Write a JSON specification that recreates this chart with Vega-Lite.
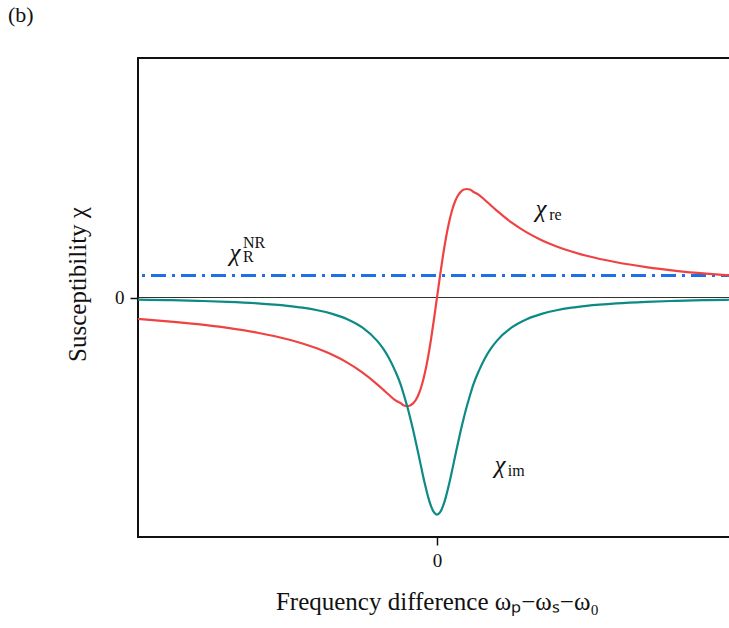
{
  "$schema": "https://vega.github.io/schema/vega-lite/v6.json",
  "autosize": {"type": "none"},
  "padding": {"left": 138, "top": 58, "right": 0, "bottom": 91},
  "width": 598,
  "height": 479,
  "background": "white",
  "config": {
    "view": {"stroke": "#111", "strokeWidth": 2},
    "font": "Liberation Serif",
    "axis": {
      "grid": false,
      "domain": false,
      "tickColor": "#111",
      "tickWidth": 1.5,
      "tickSize": 8,
      "labelFont": "Liberation Serif",
      "labelFontSize": 19,
      "labelColor": "#111",
      "titleFont": "Liberation Serif",
      "titleFontSize": 25,
      "titleFontWeight": "normal",
      "titleColor": "#111"
    }
  },
  "title": {
    "text": "(b)",
    "anchor": "start",
    "frame": "group",
    "dx": -130,
    "offset": 31,
    "font": "Liberation Serif",
    "fontSize": 22,
    "fontWeight": "normal",
    "color": "#111"
  },
  "data": {
    "values": [
      {"x": -10, "re": -0.718, "im": -0.072},
      {"x": -9, "re": -0.796, "im": -0.088},
      {"x": -8, "re": -0.892, "im": -0.112},
      {"x": -7, "re": -1.015, "im": -0.145},
      {"x": -6, "re": -1.176, "im": -0.196},
      {"x": -5, "re": -1.394, "im": -0.279},
      {"x": -4.5, "re": -1.535, "im": -0.341},
      {"x": -4, "re": -1.706, "im": -0.426},
      {"x": -3.5, "re": -1.915, "im": -0.547},
      {"x": -3, "re": -2.175, "im": -0.725},
      {"x": -2.5, "re": -2.5, "im": -1.0},
      {"x": -2, "re": -2.9, "im": -1.45},
      {"x": -1.8, "re": -3.077, "im": -1.71},
      {"x": -1.6, "re": -3.258, "im": -2.036},
      {"x": -1.4, "re": -3.429, "im": -2.449},
      {"x": -1.2, "re": -3.541, "im": -2.951},
      {"x": -1.1, "re": -3.609, "im": -3.281},
      {"x": -1, "re": -3.625, "im": -3.625},
      {"x": -0.9, "re": -3.605, "im": -4.006},
      {"x": -0.8, "re": -3.537, "im": -4.421},
      {"x": -0.7, "re": -3.406, "im": -4.866},
      {"x": -0.6, "re": -3.199, "im": -5.331},
      {"x": -0.5, "re": -2.9, "im": -5.8},
      {"x": -0.4, "re": -2.5, "im": -6.25},
      {"x": -0.3, "re": -1.995, "im": -6.651},
      {"x": -0.2, "re": -1.394, "im": -6.971},
      {"x": -0.1, "re": -0.718, "im": -7.178},
      {"x": 0, "re": 0, "im": -7.25},
      {"x": 0.1, "re": 0.718, "im": -7.178},
      {"x": 0.2, "re": 1.394, "im": -6.971},
      {"x": 0.3, "re": 1.995, "im": -6.651},
      {"x": 0.4, "re": 2.5, "im": -6.25},
      {"x": 0.5, "re": 2.9, "im": -5.8},
      {"x": 0.6, "re": 3.199, "im": -5.331},
      {"x": 0.7, "re": 3.406, "im": -4.866},
      {"x": 0.8, "re": 3.537, "im": -4.421},
      {"x": 0.9, "re": 3.605, "im": -4.006},
      {"x": 1, "re": 3.625, "im": -3.625},
      {"x": 1.1, "re": 3.609, "im": -3.281},
      {"x": 1.2, "re": 3.541, "im": -2.951},
      {"x": 1.4, "re": 3.429, "im": -2.449},
      {"x": 1.6, "re": 3.258, "im": -2.036},
      {"x": 1.8, "re": 3.077, "im": -1.71},
      {"x": 2, "re": 2.9, "im": -1.45},
      {"x": 2.5, "re": 2.5, "im": -1.0},
      {"x": 3, "re": 2.175, "im": -0.725},
      {"x": 3.5, "re": 1.915, "im": -0.547},
      {"x": 4, "re": 1.706, "im": -0.426},
      {"x": 4.5, "re": 1.535, "im": -0.341},
      {"x": 5, "re": 1.394, "im": -0.279},
      {"x": 6, "re": 1.176, "im": -0.196},
      {"x": 7, "re": 1.015, "im": -0.145},
      {"x": 8, "re": 0.892, "im": -0.112},
      {"x": 9, "re": 0.796, "im": -0.088},
      {"x": 10, "re": 0.718, "im": -0.072}
    ]
  },
  "encoding": {
    "x": {"type": "quantitative", "title": "Frequency difference ωₚ−ωₛ−ω₀",
      "scale": {"domain": [-10, 10], "nice": false, "zero": false},
      "axis": {"values": [0], "labelPadding": 6, "titlePadding": 19}},
    "y": {"type": "quantitative", "title": "Susceptibility χ",
      "scale": {"domain": [-8, 8], "nice": false, "zero": false},
      "axis": {"values": [0], "labelPadding": 6, "titlePadding": 24, "titleY": 226}}
  },
  "layer": [
    {
      "mark": {"type": "rule", "color": "#333", "strokeWidth": 1.2},
      "encoding": {"y": {"datum": 0, "type": "quantitative"}}
    },
    {
      "mark": {"type": "rule", "color": "#1f6fe6", "strokeWidth": 2, "strokeDash": [15, 6, 3, 6]},
      "encoding": {"y": {"datum": 0.73, "type": "quantitative"}}
    },
    {
      "mark": {"type": "line", "color": "#ef4343", "strokeWidth": 2.2, "interpolate": "monotone", "clip": true},
      "encoding": {
        "x": {"field": "x"},
        "y": {"field": "re"}
      }
    },
    {
      "mark": {"type": "line", "color": "#0b8a86", "strokeWidth": 2.2, "interpolate": "monotone", "clip": true},
      "encoding": {
        "x": {"field": "x"},
        "y": {"field": "im"}
      }
    },
    {
      "data": {"values": [
        {"x": 3.48, "y": 2.94, "t": "χ"},
        {"x": 2.11, "y": -5.58, "t": "χ"},
        {"x": -6.76, "y": 1.5, "t": "χ"}
      ]},
      "mark": {"type": "text", "fontSize": 25, "fontStyle": "italic", "align": "center", "baseline": "middle", "color": "#111"},
      "encoding": {
        "x": {"field": "x"},
        "y": {"field": "y"},
        "text": {"field": "t"}
      }
    },
    {
      "data": {"values": [
        {"x": 3.75, "y": 2.74, "t": "re"},
        {"x": 2.37, "y": -5.78, "t": "im"},
        {"x": -6.49, "y": 1.34, "t": "R"},
        {"x": -6.49, "y": 1.82, "t": "NR"}
      ]},
      "mark": {"type": "text", "fontSize": 16, "align": "left", "baseline": "middle", "color": "#111"},
      "encoding": {
        "x": {"field": "x"},
        "y": {"field": "y"},
        "text": {"field": "t"}
      }
    }
  ]
}
